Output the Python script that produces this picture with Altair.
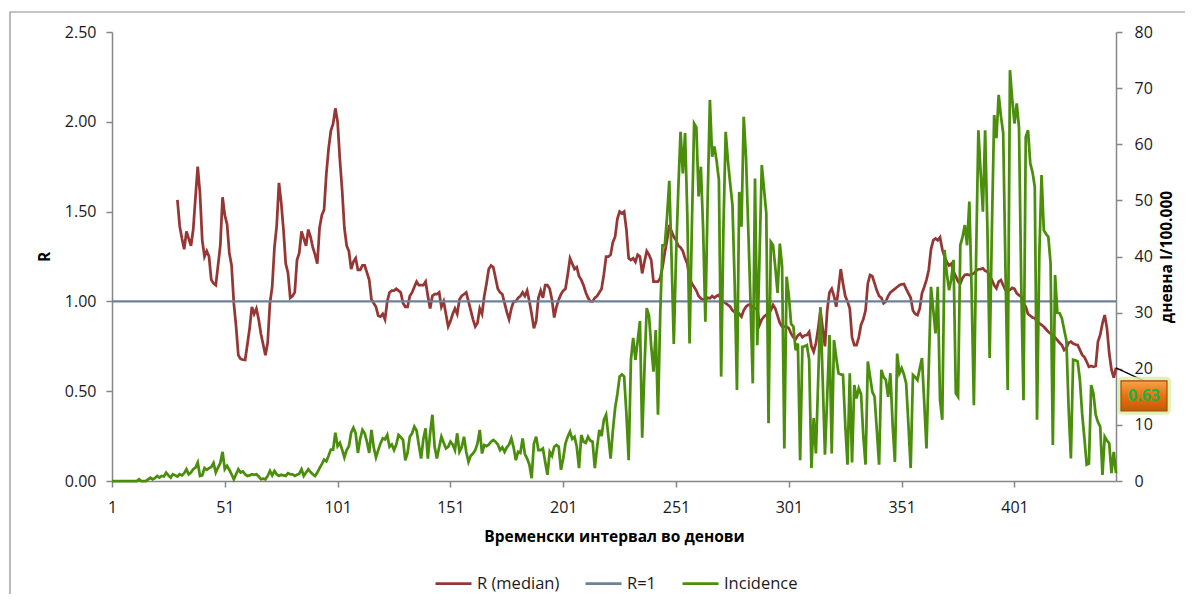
import altair as alt
import pandas as pd

# ---------------- data ----------------
INC_FIRST_DAY = 1
incidence = [
    0, 0, 0, 0, 0, 0, 0, 0, 0, 0,
    0, 0, 0.3, 0, 0, 0, 0.3, 0.6, 0.3, 0.5,
    0.9, 0.6, 0.9, 0.8, 1.5, 1.0, 0.6, 1.2, 1.0, 0.8,
    1.2, 1.0, 1.4, 2.1, 1.2, 1.5, 2.1, 2.4, 3.3, 0.9,
    1.0, 2.3, 2.0, 2.3, 2.5, 3.2, 1.5, 2.4, 3.2, 5.2,
    2.1, 2.7, 2.0, 1.2, 0.3, 1.2, 2.1, 1.5, 1.7, 1.2,
    0.9, 1.0, 1.2, 1.1, 1.2, 0.8, 0.3, 0.4, 0.3, 0.9,
    1.8, 1.0, 1.8, 1.2, 0.9, 1.1, 1.0, 0.9, 1.4, 1.2,
    1.2, 0.9, 1.1, 1.3, 2.1, 0.9, 1.5, 2.1, 1.6, 1.2,
    0.9, 1.5, 2.3, 3.0, 3.8, 3.5, 4.5, 5.6, 5.6, 8.6,
    6.2, 6.8, 5.6, 4.2, 5.5, 6.2, 8.6, 9.5, 8.5, 5.0,
    7.5, 9.1, 8.5, 7.0, 5.0, 9.1, 6.0, 4.2, 5.5, 6.7,
    7.6, 7.4, 8.2, 6.1, 6.5, 5.5, 6.5, 8.2, 7.8, 7.3,
    3.7, 5.0, 7.9, 8.5, 9.7, 9.0, 6.4, 4.0, 7.5, 9.4,
    4.0, 8.5, 11.8, 6.1, 4.0, 6.0, 7.9, 6.8, 5.8, 6.1,
    7.0, 6.5, 5.5, 8.5, 5.2, 6.0, 7.9, 5.2, 3.4, 4.5,
    4.9, 5.5, 6.7, 9.1, 4.9, 6.4, 6.2, 6.5, 7.0, 7.3,
    7.0, 6.5, 5.5, 6.0, 5.2, 6.0, 6.5, 7.6, 6.0, 3.7,
    5.2, 5.0, 7.6, 4.8, 4.0, 2.9, 0.5, 6.7, 7.9, 5.5,
    5.5, 5.8, 3.4, 1.1, 5.2, 4.5, 6.1, 6.4, 6.1, 2.0,
    4.0, 6.7, 7.9, 8.8, 7.5, 7.9, 6.1, 2.3, 8.2, 7.0,
    6.8, 7.9, 7.2, 7.0, 2.3, 6.0, 9.1, 8.0, 10.9, 11.8,
    8.0, 4.0, 9.0, 13.0, 15.5, 18.6, 19.0, 18.6, 12.0, 3.7,
    21.6, 25.5, 21.6, 25.0, 28.5, 7.7, 20.0, 30.8, 29.5, 24.0,
    19.5, 26.9, 11.8, 30.0, 42.0, 42.0, 47.0, 53.5, 40.0, 24.4,
    40.0, 52.0, 62.2, 54.8, 62.0, 47.4, 24.5, 45.0, 63.7, 63.0,
    50.7, 56.0, 45.0, 28.4, 50.0, 67.9, 57.8, 59.6, 57.0, 53.6,
    18.6, 45.0, 62.2, 57.0, 53.0, 49.2, 35.0, 16.2, 51.5, 45.3,
    64.9, 57.8, 45.0, 32.0, 17.4, 53.9, 24.2, 40.0, 56.3, 52.0,
    47.7, 10.3, 42.6, 42.0, 38.0, 33.5, 42.3, 38.2, 5.8, 36.4,
    33.0, 28.0, 27.5, 23.3, 24.5, 3.7, 23.9, 24.0, 24.2, 21.6,
    2.3, 11.2, 4.9, 18.0, 31.0, 18.0, 4.7, 15.0, 26.0, 4.9,
    25.1, 22.0, 19.2, 19.0, 18.9, 10.0, 2.9, 19.2, 3.3, 17.1,
    14.7, 16.5, 15.5, 8.0, 2.9, 21.3, 18.6, 15.9, 15.0, 9.0,
    2.9, 19.8, 18.5, 18.0, 15.0, 19.2, 10.0, 3.4, 22.7, 19.2,
    20.1, 19.0, 17.4, 10.0, 2.3, 18.9, 18.5, 18.0, 20.0, 21.9,
    14.0, 5.8, 20.0, 34.6, 30.5, 26.3, 34.6, 14.4, 10.9, 41.2,
    37.0, 34.0, 36.0, 39.4, 15.6, 15.0, 42.0, 43.5, 45.6, 42.0,
    49.8, 34.0, 13.5, 40.0, 62.5, 55.0, 48.0, 62.5, 45.0, 21.9,
    45.0, 65.2, 61.1, 68.8, 65.0, 62.0, 38.0, 16.2, 73.2, 68.0,
    63.7, 67.3, 63.0, 35.0, 14.4, 61.3, 62.5, 56.6, 55.0, 52.4,
    10.9, 40.0, 54.5, 44.7, 44.0, 43.5, 38.8, 6.4, 36.7, 30.0,
    29.9, 29.0, 27.0, 25.1, 13.0, 4.0, 21.6, 21.5, 21.3, 18.0,
    12.0, 7.6, 2.9, 3.1, 17.1, 15.6, 11.8, 10.5, 9.7, 1.1,
    7.9, 7.2, 6.7, 1.4, 5.2, 1.4,
]

R_FIRST_DAY = 30
r_median = [
    1.565, 1.42, 1.35, 1.29, 1.39, 1.35, 1.31, 1.40, 1.58, 1.75,
    1.60, 1.34, 1.25, 1.28, 1.25, 1.12, 1.10, 1.09, 1.20, 1.31,
    1.58, 1.48, 1.43, 1.27, 1.20, 0.99, 0.86, 0.70, 0.68, 0.675,
    0.674, 0.76, 0.85, 0.97, 0.93, 0.96, 0.90, 0.82, 0.76, 0.70,
    0.77, 0.99, 1.08, 1.30, 1.42, 1.66, 1.55, 1.40, 1.21, 1.16,
    1.02, 1.03, 1.05, 1.23, 1.27, 1.39, 1.35, 1.31, 1.40, 1.36,
    1.30, 1.26, 1.21, 1.41, 1.48, 1.51, 1.71, 1.85, 1.95, 1.99,
    2.075, 2.00, 1.79, 1.62, 1.41, 1.31, 1.28, 1.18, 1.22, 1.24,
    1.175, 1.175, 1.20, 1.20, 1.16, 1.12, 1.01, 0.99, 0.97, 0.92,
    0.915, 0.93, 0.90, 1.00, 1.05, 1.06, 1.06, 1.07, 1.06, 1.05,
    0.99, 0.97, 0.97, 1.03, 1.05, 1.08, 1.11, 1.09, 1.09, 1.09,
    1.11, 1.03, 0.96, 1.03, 1.04, 1.04, 1.05, 0.97, 1.00, 0.93,
    0.86, 0.89, 0.93, 0.96, 0.93, 1.01, 1.03, 1.04, 1.05, 1.00,
    0.95, 0.90, 0.86, 0.88, 0.96, 0.93, 1.03, 1.10, 1.18, 1.20,
    1.19, 1.13, 1.07, 1.05, 1.04, 0.99, 0.94, 0.90, 0.96, 1.00,
    1.00, 1.02, 1.03, 1.05, 1.03, 1.06, 1.00, 0.93, 0.85, 0.89,
    1.02, 1.06, 1.02, 1.09, 1.09, 1.07, 1.01, 0.91, 0.97, 1.01,
    1.04, 1.06, 1.07, 1.15, 1.24, 1.21, 1.18, 1.19, 1.14, 1.12,
    1.09, 1.05, 1.02, 1.00, 1.00, 1.02, 1.03, 1.05, 1.07, 1.15,
    1.25, 1.25, 1.26, 1.33, 1.36, 1.46, 1.50, 1.49, 1.50, 1.40,
    1.24, 1.23, 1.24, 1.22, 1.26, 1.25, 1.156, 1.22, 1.28, 1.26,
    1.23, 1.11, 1.11, 1.11, 1.13, 1.19, 1.27, 1.34, 1.425, 1.39,
    1.36, 1.34, 1.31, 1.30, 1.28, 1.24, 1.21, 1.13, 1.10, 1.08,
    1.06, 1.03, 1.017, 1.01, 1.008, 1.02, 1.017, 1.03, 1.02, 1.03,
    1.036, 1.01, 1.00, 0.99, 0.98, 0.97, 0.95, 0.94, 0.915, 0.93,
    0.915, 0.95, 0.97, 0.98, 0.98, 0.97, 0.96, 0.96, 0.87, 0.90,
    0.915, 0.925, 0.934, 0.95, 0.98, 0.96, 0.92, 0.88, 0.86, 0.86,
    0.86, 0.85, 0.82, 0.80, 0.79, 0.81, 0.82, 0.80, 0.81, 0.813,
    0.83, 0.75, 0.72, 0.767, 0.85, 0.95, 0.85, 0.75, 0.95, 1.05,
    1.07, 1.03, 0.97, 1.07, 1.18, 1.10, 1.03, 1.00, 0.96, 0.80,
    0.757, 0.757, 0.80, 0.87, 0.90, 0.95, 1.10, 1.147, 1.14, 1.10,
    1.06, 1.03, 1.02, 0.99, 1.00, 1.03, 1.05, 1.06, 1.07, 1.08,
    1.09, 1.095, 1.097, 1.07, 1.045, 1.02, 0.95, 0.93, 0.924, 0.96,
    1.045, 1.08, 1.12, 1.175, 1.29, 1.34, 1.35, 1.34, 1.357, 1.29,
    1.249, 1.22, 1.20, 1.21, 1.166, 1.14, 1.11, 1.10, 1.13, 1.147,
    1.15, 1.147, 1.15, 1.156, 1.17, 1.179, 1.18, 1.184, 1.17, 1.166,
    1.14, 1.12, 1.09, 1.073, 1.11, 1.119, 1.09, 1.063, 1.06, 1.065,
    1.075, 1.07, 1.045, 1.035, 1.026, 0.99, 0.97, 0.93, 0.92, 0.91,
    0.906, 0.89, 0.878, 0.87, 0.859, 0.845, 0.831, 0.82, 0.813, 0.80,
    0.785, 0.77, 0.757, 0.729, 0.74, 0.77, 0.776, 0.765, 0.76, 0.757,
    0.73, 0.702, 0.69, 0.664, 0.636, 0.64, 0.636, 0.64, 0.776, 0.813,
    0.878, 0.924, 0.85, 0.711, 0.62, 0.575, 0.63,
]

R_REFERENCE = [1.0]
SERIES = ["R (median)", "R=1", "Incidence"]
COLORS = ["#953735", "#6F8198", "#4B8E0B"]
X_TICKS = [1, 51, 101, 151, 201, 251, 301, 351, 401]
R_TICKS = [0, 0.5, 1.0, 1.5, 2.0, 2.5]
INC_TICKS = [0, 10, 20, 30, 40, 50, 60, 70, 80]
X_TITLE = "Временски интервал во денови"
R_TITLE = "R"
INC_TITLE = "дневна I/100.000"

# ---------------- tables ----------------
inc_df = pd.DataFrame({"day": list(range(INC_FIRST_DAY, INC_FIRST_DAY + len(incidence))),
                       "value": incidence, "series": SERIES[2]})
r_df = pd.DataFrame({"day": list(range(R_FIRST_DAY, R_FIRST_DAY + len(r_median))),
                     "value": r_median, "series": SERIES[0]})
last_df = r_df.tail(1).reset_index(drop=True)
ref_df = pd.DataFrame({"value": R_REFERENCE, "series": SERIES[1]})
frame_df = pd.DataFrame({"k": [0]})

FONT = "Open Sans"
x_domain = [INC_FIRST_DAY, INC_FIRST_DAY + len(incidence) - 1]

x_enc = alt.X("day:Q", scale=alt.Scale(domain=x_domain, nice=False, zero=False),
              axis=alt.Axis(values=X_TICKS, format="d", title=X_TITLE, labelFlush=False,
                            labelPadding=12, titlePadding=14, tickSize=6))
x_plain = alt.X("day:Q", scale=alt.Scale(domain=x_domain, nice=False, zero=False))

color_scale = alt.Scale(domain=SERIES, range=COLORS)
legend = alt.Legend(orient="none", legendX=322, legendY=532, direction="horizontal",
                    title=None, symbolType="stroke", symbolSize=1296, symbolStrokeWidth=2.75,
                    labelFont=FONT, labelFontSize=16.5, labelColor="#1a1a1a",
                    columnPadding=20, labelOffset=4, padding=0)
color_enc = alt.Color("series:N", scale=color_scale, legend=legend)

r_scale = alt.Scale(domain=[0, 2.5], nice=False, zero=True)

frame = alt.Chart(frame_df).mark_rect(fill=None, stroke="#8c8c8c", strokeWidth=1.2).encode(
    x=alt.value(-102), x2=alt.value(1090), y=alt.value(-20), y2=alt.value(700))

r_line = alt.Chart(r_df).mark_line(strokeWidth=2.75).encode(
    x=x_enc,
    y=alt.Y("value:Q", scale=r_scale,
            axis=alt.Axis(values=R_TICKS, format=".2f", title=R_TITLE, labelPadding=10,
                          titlePadding=12, tickSize=6)),
    color=color_enc,
)

ref_rule = alt.Chart(ref_df).mark_rule(strokeWidth=2.25).encode(
    y=alt.Y("value:Q", scale=r_scale),
    color=color_enc,
)

leader = alt.Chart(last_df).mark_rule(color="#000000", strokeWidth=1.2,
                                       x2Offset=28, y2Offset=13).encode(
    x=x_plain, x2="day:Q", y=alt.Y("value:Q", scale=r_scale), y2="value:Q")

glow = alt.Chart(last_df).mark_rect(fill="#D9F0A8", opacity=0.85, cornerRadius=5,
                                    xOffset=1, x2Offset=55, yOffset=9, y2Offset=47).encode(
    x=x_plain, x2="day:Q", y=alt.Y("value:Q", scale=r_scale), y2="value:Q")

box = alt.Chart(last_df).mark_rect(
    fill=alt.Gradient(gradient="linear", x1=0, y1=0, x2=0, y2=1,
                      stops=[alt.GradientStop(color="#F7A24A", offset=0),
                             alt.GradientStop(color="#E8720F", offset=0.5),
                             alt.GradientStop(color="#C25A08", offset=1)]),
    stroke="#A24C06", strokeWidth=1.2,
    xOffset=5, x2Offset=51, yOffset=13, y2Offset=43).encode(
    x=x_plain, x2="day:Q", y=alt.Y("value:Q", scale=r_scale), y2="value:Q")

label = alt.Chart(last_df).mark_text(dx=28, dy=28, font=FONT, fontSize=16, fontWeight="bold",
                                     color="#1DB34B").encode(
    x=x_plain, y=alt.Y("value:Q", scale=r_scale),
    text=alt.Text("value:Q", format=".2f"))

left = alt.layer(frame, r_line, ref_rule, leader, glow, box, label)

inc_line = alt.Chart(inc_df).mark_line(strokeWidth=2.75).encode(
    x=x_plain,
    y=alt.Y("value:Q", scale=alt.Scale(domain=[0, 80], nice=False),
            axis=alt.Axis(orient="right", values=INC_TICKS, format="d", title=INC_TITLE,
                          titleAngle=270, titleBaseline="top", labelPadding=12,
                          titlePadding=7, tickSize=6)),
    color=color_enc,
)

chart = alt.layer(left, inc_line).resolve_scale(y="independent").properties(
    width=1004, height=449,
    autosize=alt.AutoSizeParams(type="none"),
    padding={"left": 104, "top": 24, "right": 69, "bottom": 113},
    background="white",
).configure_view(stroke=None).configure_axis(
    grid=False, domainColor="#868686", domainWidth=1.5, tickColor="#868686", tickWidth=1.5,
    labelFont=FONT, labelFontSize=16, labelColor="#1a1a1a",
    titleFont=FONT, titleFontSize=15.5, titleFontWeight="bold", titleColor="#000000",
)

chart.save("out.html", embed_options={"renderer": "svg", "actions": False})
